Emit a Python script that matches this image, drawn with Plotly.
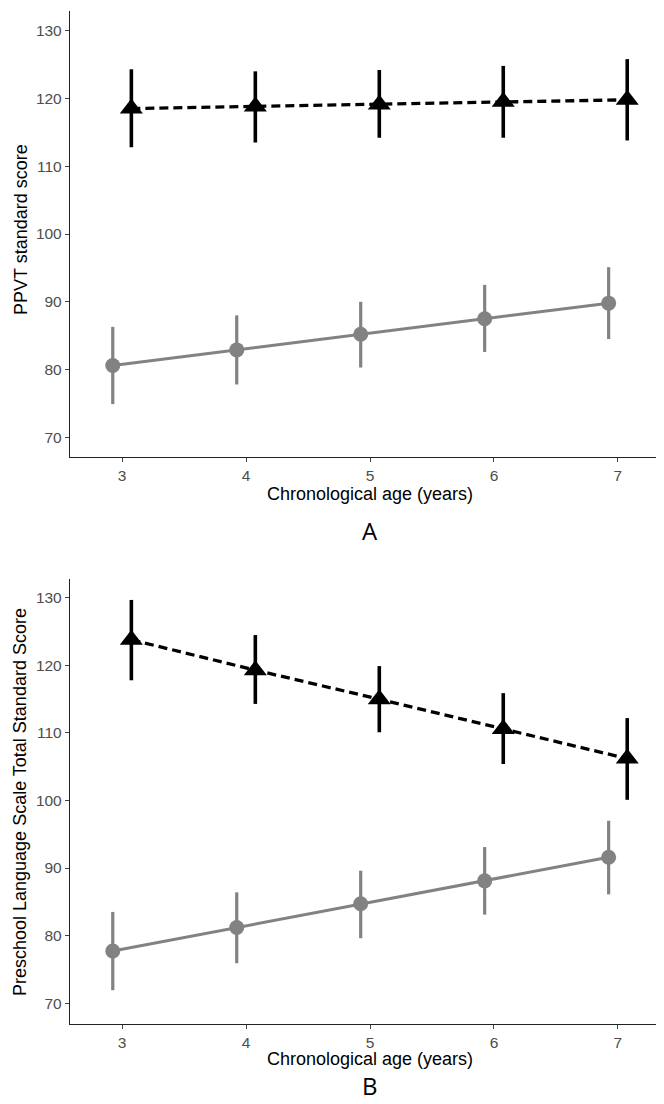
import plotly.graph_objects as go

ages = [3, 4, 5, 6, 7]
dodge = 0.075

# Panel A: PPVT standard score
a_high = [118.5, 118.8, 119.1, 119.5, 119.8]
a_high_lo = [112.8, 113.5, 114.2, 114.2, 113.8]
a_high_hi = [124.3, 124.0, 124.2, 124.8, 125.8]
a_low = [80.6, 82.9, 85.2, 87.5, 89.8]
a_low_lo = [74.9, 77.8, 80.3, 82.6, 84.5]
a_low_hi = [86.3, 88.0, 90.0, 92.5, 95.1]

# Panel B: Preschool Language Scale
b_high = [123.8, 119.3, 115.0, 110.6, 106.2]
b_high_lo = [117.8, 114.3, 110.1, 105.4, 100.1]
b_high_hi = [129.7, 124.5, 119.9, 115.9, 112.2]
b_low = [77.7, 81.2, 84.7, 88.1, 91.6]
b_low_lo = [71.9, 75.9, 79.6, 83.1, 86.1]
b_low_hi = [83.5, 86.4, 89.6, 93.1, 97.0]

y_ticks = [70, 80, 90, 100, 110, 120, 130]
x_title = "Chronological age (years)"
a_ytitle = "PPVT standard score"
b_ytitle = "Preschool Language Scale Total Standard Score"

W, H = 664, 1104
GREY = "#828282"

fig = go.Figure()


def add_group(vals, lo, hi, xoff, color, symbol, size, dash, lw, ew, xa, ya):
    xs = [a + xoff for a in ages]
    fig.add_trace(go.Scatter(
        x=xs, y=vals, mode="lines+markers",
        line=dict(color=color, width=lw, dash=dash),
        marker=dict(color=color, symbol=symbol, size=size, line=dict(width=0)),
        error_y=dict(type="data", symmetric=False,
                     array=[h - v for h, v in zip(hi, vals)],
                     arrayminus=[v - l for v, l in zip(vals, lo)],
                     color=color, thickness=ew, width=0),
        xaxis=xa, yaxis=ya, showlegend=False, hoverinfo="skip"))


for xa, ya, lowv, lowlo, lowhi, hv, hlo, hhi in [
        ("x", "y", a_low, a_low_lo, a_low_hi, a_high, a_high_lo, a_high_hi),
        ("x2", "y2", b_low, b_low_lo, b_low_hi, b_high, b_high_lo, b_high_hi)]:
    add_group(lowv, lowlo, lowhi, -dodge, GREY, "circle", 15, "solid", 3, 3.2, xa, ya)
    add_group(hv, hlo, hhi, dodge, "black", "triangle-up", 20, "9px,5px", 3.3, 3.6, xa, ya)

xdom = [62 / W, 662 / W]
a_dom = [1 - 449 / H, 1 - 3 / H]
b_dom = [1 - 1016 / H, 1 - 571 / H]

ax_common = dict(showgrid=False, zeroline=False, showline=True, linecolor="#222222",
                 linewidth=1.3, ticks="outside", ticklen=4, tickcolor="#444444",
                 tickwidth=1, tickfont=dict(family="Liberation Sans, Arial", size=15.5, color="#4d4d4d"))

fig.update_layout(
    width=W, height=H, margin=dict(l=0, r=0, t=0, b=0),
    paper_bgcolor="white", plot_bgcolor="white",
    xaxis=dict(domain=xdom, anchor="y", range=[2.58, 7.42], tickvals=ages, **ax_common),
    yaxis=dict(domain=a_dom, anchor="x", range=[67.1, 132.9], tickvals=y_ticks, **ax_common),
    xaxis2=dict(domain=xdom, anchor="y2", range=[2.58, 7.42], tickvals=ages, **ax_common),
    yaxis2=dict(domain=b_dom, anchor="x2", range=[66.9, 132.8], tickvals=y_ticks, **ax_common),
)

tfont = dict(family="Liberation Sans, Arial", size=18, color="black")
lfont = dict(family="Open Sans, Liberation Sans", size=24, color="black")
ann = [
    dict(text=x_title, x=362 / W, y=1 - 486 / H, xref="paper", yref="paper",
         showarrow=False, font=tfont, xanchor="center", yanchor="middle"),
    dict(text=x_title, x=362 / W, y=1 - 1051 / H, xref="paper", yref="paper",
         showarrow=False, font=tfont, xanchor="center", yanchor="middle"),
    dict(text=a_ytitle, x=13 / W, y=1 - 222 / H, xref="paper", yref="paper", textangle=-90,
         showarrow=False, font=tfont, xanchor="center", yanchor="middle"),
    dict(text=b_ytitle, x=12 / W, y=1 - 794 / H, xref="paper", yref="paper", textangle=-90,
         showarrow=False, font=tfont, xanchor="center", yanchor="middle"),
    dict(text="A", x=362 / W, y=1 - 523 / H, xref="paper", yref="paper",
         showarrow=False, font=lfont, xanchor="center", yanchor="middle"),
    dict(text="B", x=362 / W, y=1 - 1077 / H, xref="paper", yref="paper", borderpad=0,
         showarrow=False, font=lfont, xanchor="center", yanchor="middle"),
]
fig.update_layout(annotations=ann)

fig.write_html("out.html")
